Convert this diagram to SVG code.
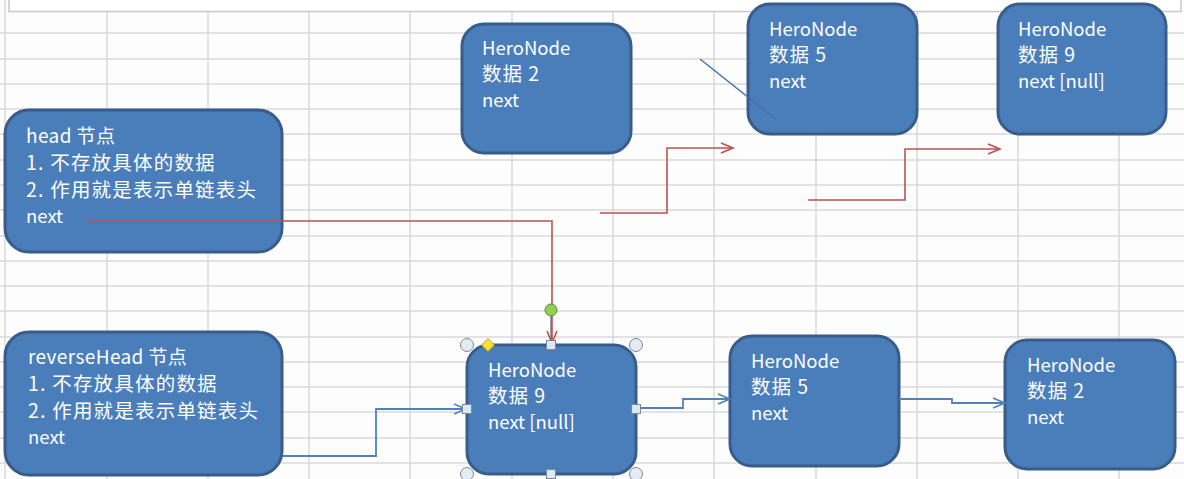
<svg xmlns="http://www.w3.org/2000/svg" width="1184" height="479" viewBox="0 0 1184 479">
  <style>
    .grid line { stroke: #d9d9d9; stroke-width: 1.5; }
    .node rect { fill: #4a7ebb; stroke: #385d8a; stroke-width: 3; }
    .node text { fill: #ffffff; font-family: "Noto Sans CJK SC", "Noto Sans", sans-serif; font-size: 18.5px; }
    .node .cj { font-size: 19.5px; letter-spacing: 1.2px; }
    .node .hd { font-size: 19px; letter-spacing: 0.4px; }
    .node .dt { font-size: 19.5px; letter-spacing: 1px; }
    .red { fill: none; stroke: #c0504d; stroke-width: 1.6; }
    .blue { fill: none; stroke: #4f81bd; stroke-width: 1.8; }
    .handle-c { fill: #e4ebf2; stroke: #7f8a96; stroke-width: 1; }
    .handle-s { fill: #dbe9f7; stroke: #7f8a96; stroke-width: 1; }
  </style>
  <defs>
    <marker id="arrRed" markerUnits="userSpaceOnUse" markerWidth="16" markerHeight="14" refX="13" refY="6" orient="auto">
      <path d="M1,1 L13,6 L1,11" fill="none" stroke="#c0504d" stroke-width="1.6"/>
    </marker>
    <marker id="arrBlue" markerUnits="userSpaceOnUse" markerWidth="16" markerHeight="14" refX="13" refY="6" orient="auto">
      <path d="M1,1 L13,6 L1,11" fill="none" stroke="#4f81bd" stroke-width="1.6"/>
    </marker>
  </defs>
  <rect x="0" y="0" width="1184" height="479" fill="#fdfdfd"/>
  <g class="grid">
    <line x1="5" y1="0" x2="5" y2="479"/>
    <line x1="107" y1="12" x2="107" y2="479"/>
    <line x1="208" y1="12" x2="208" y2="479"/>
    <line x1="309" y1="12" x2="309" y2="479"/>
    <line x1="410" y1="12" x2="410" y2="479"/>
    <line x1="512" y1="12" x2="512" y2="479"/>
    <line x1="613" y1="12" x2="613" y2="479"/>
    <line x1="714" y1="12" x2="714" y2="479"/>
    <line x1="816" y1="12" x2="816" y2="479"/>
    <line x1="917" y1="12" x2="917" y2="479"/>
    <line x1="1018" y1="12" x2="1018" y2="479"/>
    <line x1="1119" y1="12" x2="1119" y2="479"/>
    <line x1="0" y1="33" x2="1184" y2="33"/>
    <line x1="0" y1="59" x2="1184" y2="59"/>
    <line x1="0" y1="84" x2="1184" y2="84"/>
    <line x1="0" y1="109" x2="1184" y2="109"/>
    <line x1="0" y1="134" x2="1184" y2="134"/>
    <line x1="0" y1="160" x2="1184" y2="160"/>
    <line x1="0" y1="185" x2="1184" y2="185"/>
    <line x1="0" y1="210" x2="1184" y2="210"/>
    <line x1="0" y1="236" x2="1184" y2="236"/>
    <line x1="0" y1="261" x2="1184" y2="261"/>
    <line x1="0" y1="286" x2="1184" y2="286"/>
    <line x1="0" y1="311" x2="1184" y2="311"/>
    <line x1="0" y1="337" x2="1184" y2="337"/>
    <line x1="0" y1="362" x2="1184" y2="362"/>
    <line x1="0" y1="387" x2="1184" y2="387"/>
    <line x1="0" y1="412" x2="1184" y2="412"/>
    <line x1="0" y1="438" x2="1184" y2="438"/>
    <line x1="0" y1="463" x2="1184" y2="463"/>
  </g>
  <rect x="9" y="-2" width="1172" height="13.5" fill="#ffffff" stroke="#c8c8c8" stroke-width="1.5"/>

  <g id="head" class="node">
    <rect x="5" y="110" width="277" height="142" rx="24"/>
    <text class="hd" x="26" y="143">head 节点</text>
    <text class="cj" x="26" y="170">1. 不存放具体的数据</text>
    <text class="cj" x="26" y="197">2. 作用就是表示单链表头</text>
    <text x="26" y="223">next</text>
  </g>
  <g id="top-node-2" class="node">
    <rect x="462" y="24" width="169" height="129" rx="22"/>
    <text x="482" y="55">HeroNode</text>
    <text class="dt" x="482" y="81">数据 2</text>
    <text x="482" y="107">next</text>
  </g>
  <g id="top-node-5" class="node">
    <rect x="748" y="4" width="169" height="130" rx="22"/>
    <text x="769" y="36">HeroNode</text>
    <text class="dt" x="769" y="62">数据 5</text>
    <text x="769" y="88">next</text>
  </g>
  <g id="top-node-9" class="node">
    <rect x="998" y="4" width="168" height="130" rx="22"/>
    <text x="1018" y="36">HeroNode</text>
    <text class="dt" x="1018" y="62">数据 9</text>
    <text x="1018" y="88">next [null]</text>
  </g>
  <g id="reverseHead" class="node">
    <rect x="5" y="332" width="277" height="143" rx="24"/>
    <text class="hd" x="28" y="364">reverseHead 节点</text>
    <text class="cj" x="28" y="391">1. 不存放具体的数据</text>
    <text class="cj" x="28" y="418">2. 作用就是表示单链表头</text>
    <text x="28" y="444">next</text>
  </g>
  <g id="bottom-node-9" class="node">
    <rect x="467" y="345" width="169" height="129" rx="22"/>
    <text x="488" y="377">HeroNode</text>
    <text class="dt" x="488" y="403">数据 9</text>
    <text x="488" y="429">next [null]</text>
  </g>
  <g id="bottom-node-5" class="node">
    <rect x="730" y="336" width="169" height="130" rx="22"/>
    <text x="751" y="368">HeroNode</text>
    <text class="dt" x="751" y="394">数据 5</text>
    <text x="751" y="420">next</text>
  </g>
  <g id="bottom-node-2" class="node">
    <rect x="1005" y="340" width="170" height="129" rx="22"/>
    <text x="1027" y="372">HeroNode</text>
    <text class="dt" x="1027" y="398">数据 2</text>
    <text x="1027" y="424">next</text>
  </g>

  <g id="connectors">
    <path class="red" d="M85,221 H552 V343" marker-end="url(#arrRed)"/>
    <path class="red" d="M600,213 H667 V148 H733" marker-end="url(#arrRed)"/>
    <path class="red" d="M808,200 H905 V149 H1000" marker-end="url(#arrRed)"/>
    <path d="M700,59 L778,121" fill="none" stroke="#3f6fae" stroke-width="1.4" marker-end="url(#arrBlue)"/>
    <path class="blue" d="M283,456 H376 V409 H466" marker-end="url(#arrBlue)"/>
    <path class="blue" d="M636,408 H683 V399 H730" marker-end="url(#arrBlue)"/>
    <path class="blue" d="M899,399 H952 V403 H1005" marker-end="url(#arrBlue)"/>
  </g>

  <g id="selection">
    <line x1="551" y1="316" x2="551" y2="341" stroke="#5a6470" stroke-width="1.2"/>
    <circle cx="551" cy="310" r="6" fill="#8fd14f" stroke="#5b8a3c" stroke-width="1"/>
    <circle class="handle-c" cx="467" cy="345" r="6.5"/>
    <circle class="handle-c" cx="636" cy="345" r="6.5"/>
    <circle class="handle-c" cx="467" cy="474" r="6.5"/>
    <circle class="handle-c" cx="636" cy="474" r="6.5"/>
    <rect class="handle-s" x="546.5" y="340.5" width="9" height="9"/>
    <rect class="handle-s" x="462.5" y="404.5" width="9" height="9"/>
    <rect class="handle-s" x="631.5" y="404.5" width="9" height="9"/>
    <rect class="handle-s" x="546.5" y="469.5" width="9" height="9"/>
    <path d="M488,338.5 L494.5,345 L488,351.5 L481.5,345 Z" fill="#ffe030" stroke="#a89020" stroke-width="0.8"/>
  </g>
</svg>
